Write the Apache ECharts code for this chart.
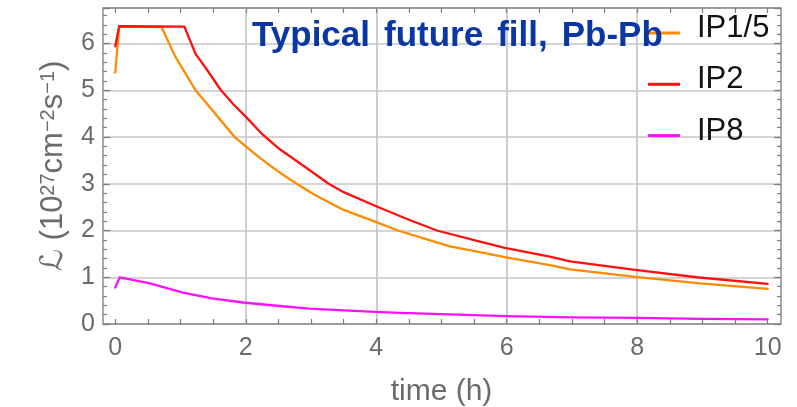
<!DOCTYPE html>
<html>
<head>
<meta charset="utf-8">
<script src="https://cdn.jsdelivr.net/npm/echarts@6/dist/echarts.min.js"></script>
<style>
  html, body { margin: 0; padding: 0; background: #fff; }
  #chart { width: 797px; height: 407px; }
</style>
</head>
<body>
<div id="chart"></div>
<script>
// Luminosity evolution over a typical Pb-Pb fill, per interaction point
const seriesNames = ['IP1/5', 'IP2', 'IP8'];

const timeIP15 = [0, 0.06, 0.71, 0.92, 1.23, 1.50, 1.83, 2.07, 2.22, 2.50, 2.78, 3.06, 3.50, 3.98, 4.33, 5.13, 5.59, 5.97, 6.66, 6.97, 7.97, 8.96, 10.0];
const lumiIP15 = [5.38, 6.37, 6.35, 5.72, 5.00, 4.55, 4.00, 3.72, 3.55, 3.26, 3.00, 2.76, 2.44, 2.19, 2.00, 1.66, 1.54, 1.43, 1.26, 1.17, 1.01, 0.87, 0.75];

const timeIP2 = [0, 0.06, 1.06, 1.23, 1.40, 1.62, 1.81, 2.01, 2.26, 2.50, 3.04, 3.27, 3.50, 3.98, 4.50, 4.93, 5.59, 5.97, 6.66, 6.97, 7.97, 8.91, 10.0];
const lumiIP2 = [5.94, 6.37, 6.36, 5.78, 5.45, 5.00, 4.70, 4.42, 4.05, 3.76, 3.23, 3.00, 2.82, 2.53, 2.23, 2.00, 1.76, 1.63, 1.44, 1.34, 1.16, 1.00, 0.86];

const timeIP8 = [0, 0.07, 0.53, 1.04, 1.48, 1.96, 2.47, 2.98, 3.50, 3.98, 4.36, 5.00, 6.00, 7.00, 8.00, 9.00, 10.0];
const lumiIP8 = [0.78, 1.00, 0.87, 0.67, 0.55, 0.46, 0.39, 0.33, 0.29, 0.26, 0.24, 0.21, 0.17, 0.14, 0.13, 0.11, 0.10];

const xTicks = [0, 2, 4, 6, 8, 10];
const yTicks = [0, 1, 2, 3, 4, 5, 6];
const titleWords = ['Typical', 'future', 'fill,', 'Pb-Pb'];

const FONT = "'Liberation Sans', Arial, Helvetica, sans-serif";
const GRAY = '#6b6b6b';
const FRAME = '#7d7d7d';
const GRIDLINE = '#c6c6c6';
const colors = ['#ff8a00', '#ff1010', '#ff10ff'];

const pairs = (xs, ys) => xs.map((x, i) => [x, ys[i]]);
const Y_MAX = 6.76;

const frameBox = { left: 103, right: 16, top: 8, bottom: 83 };
const dataBox = { left: 115.3, right: 29.3, top: 8, bottom: 83 };

const tickOnly = (extra) => Object.assign({
  axisLine: { show: false },
  axisLabel: { show: false },
  splitLine: { show: false }
}, extra);

const chart = echarts.init(document.getElementById('chart'), null, { renderer: 'canvas' });

chart.setOption({
  animation: false,
  backgroundColor: '#ffffff',
  textStyle: { fontFamily: FONT },
  title: {
    // words joined by fixed-width gaps
    text: titleWords.map((w) => `{w|${w}}`).join('{g| }'),
    left: 252,
    top: 19,
    padding: 0,
    textStyle: {
      fontFamily: FONT, fontSize: 35, fontWeight: 'bold', color: '#0a37a3',
      rich: {
        w: { fontFamily: FONT, fontSize: 35, fontWeight: 'bold', color: '#0a37a3' },
        g: { fontSize: 35, width: 14 }
      }
    },
    z: 10
  },
  legend: {
    data: seriesNames,
    orient: 'vertical',
    left: 648,
    top: 13,
    padding: 0,
    icon: 'rect',
    itemWidth: 32,
    itemHeight: 3,
    itemGap: 15.8,
    formatter: (name) => `{n|${name}}\n{e| }`,
    textStyle: {
      fontFamily: FONT, fontSize: 31, color: '#111', padding: [0, 0, 0, 12],
      rich: {
        n: { fontFamily: FONT, fontSize: 31, color: '#111', lineHeight: 30 },
        e: { fontSize: 1, lineHeight: 9 }
      }
    },
    z: 8
  },
  grid: [
    Object.assign({ show: true, borderColor: FRAME, borderWidth: 1.3, backgroundColor: 'transparent',
      containLabel: false, outerBoundsMode: 'none' }, frameBox),
    Object.assign({ show: false, containLabel: false, outerBoundsMode: 'none' }, dataBox)
  ],
  xAxis: [
    {
      gridIndex: 1, type: 'value', min: 0, max: 10, interval: 2, position: 'bottom',
      axisLine: { show: false },
      axisTick: { show: false },
      axisLabel: {
        fontSize: 25, color: GRAY, margin: 12, fontFamily: FONT,
        formatter: (v) => (xTicks.indexOf(v) >= 0 ? String(v) : '')
      },
      splitLine: { show: true, showMinLine: false, showMaxLine: false, lineStyle: { color: GRIDLINE, width: 1.7 } },
      name: 'time (h)',
      nameLocation: 'middle',
      nameGap: 53,
      nameTextStyle: { fontSize: 30, color: GRAY, fontFamily: FONT }
    },
    tickOnly({ gridIndex: 1, type: 'value', min: 0, max: 10, interval: 0.5, position: 'bottom',
      axisTick: { show: true, inside: true, length: 5, lineStyle: { color: FRAME, width: 1.2 } } }),
    tickOnly({ gridIndex: 1, type: 'value', min: 0, max: 10, interval: 0.5, position: 'top',
      axisTick: { show: true, inside: true, length: 5, lineStyle: { color: FRAME, width: 1.2 } } }),
    { gridIndex: 0, type: 'value', min: 0, max: 1, show: false }
  ],
  yAxis: [
    {
      gridIndex: 0, type: 'value', min: 0, max: Y_MAX, interval: 1, position: 'left',
      axisLine: { show: false },
      axisTick: { show: true, inside: true, length: 7, lineStyle: { color: FRAME, width: 1.2 } },
      axisLabel: {
        fontSize: 25, color: GRAY, margin: 8, fontFamily: FONT,
        formatter: (v) => (yTicks.indexOf(v) >= 0 ? String(v) : '')
      },
      splitLine: { show: true, showMinLine: false, showMaxLine: false, lineStyle: { color: GRIDLINE, width: 1.7 } },
      name: '{l|ℒ} (10{s|27}cm{s|−2}s{s|−1})',
      nameLocation: 'middle',
      nameRotate: 90,
      nameGap: 34,
      nameTextStyle: {
        fontSize: 31, color: GRAY, fontFamily: FONT,
        rich: {
          l: { fontSize: 31, color: GRAY, fontFamily: "'DejaVu Serif', 'DejaVu Sans', serif", fontStyle: 'italic' },
          s: { fontSize: 20, color: GRAY, fontFamily: FONT, verticalAlign: 'top', lineHeight: 20 }
        }
      }
    },
    tickOnly({ gridIndex: 0, type: 'value', min: 0, max: Y_MAX, interval: 0.2, position: 'left',
      axisTick: { show: true, inside: true, length: 4, lineStyle: { color: FRAME, width: 1.2 } } }),
    tickOnly({ gridIndex: 0, type: 'value', min: 0, max: Y_MAX, interval: 1, position: 'right',
      axisTick: { show: true, inside: true, length: 7, lineStyle: { color: FRAME, width: 1.2 } } }),
    tickOnly({ gridIndex: 0, type: 'value', min: 0, max: Y_MAX, interval: 0.2, position: 'right',
      axisTick: { show: true, inside: true, length: 4, lineStyle: { color: FRAME, width: 1.2 } } }),
    { gridIndex: 1, type: 'value', min: 0, max: Y_MAX, show: false }
  ],
  series: [
    [timeIP15, lumiIP15],
    [timeIP2, lumiIP2],
    [timeIP8, lumiIP8]
  ].map(([xs, ys], i) => ({
    name: seriesNames[i],
    type: 'line',
    xAxisIndex: 0,
    yAxisIndex: 4,
    data: pairs(xs, ys),
    showSymbol: false,
    symbol: 'none',
    color: colors[i],
    lineStyle: { color: colors[i], width: 2.3, join: 'round', cap: 'round' },
    z: 3
  }))
});
</script>
</body>
</html>
